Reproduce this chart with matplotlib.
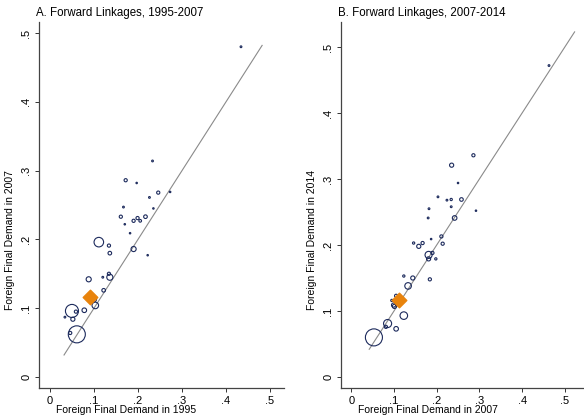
import numpy as np
import matplotlib
matplotlib.use("Agg")
import matplotlib.pyplot as plt

plt.rcParams['font.family'] = ['Liberation Sans', 'DejaVu Sans']

# Panel A: foreign final demand shares, 1995 vs 2007
a_x = [0.434, 0.233, 0.172, 0.197, 0.246, 0.226, 0.273, 0.167, 0.235, 0.161,
       0.170, 0.190, 0.199, 0.205, 0.217, 0.182, 0.111, 0.134, 0.136, 0.190,
       0.222, 0.088, 0.120, 0.134, 0.136, 0.122, 0.093, 0.100, 0.103, 0.050,
       0.059, 0.078, 0.052, 0.034, 0.061, 0.046]
a_y = [0.480, 0.314, 0.286, 0.282, 0.268, 0.261, 0.269, 0.247, 0.245, 0.233,
       0.222, 0.227, 0.231, 0.227, 0.233, 0.209, 0.196, 0.191, 0.180, 0.186,
       0.177, 0.142, 0.145, 0.150, 0.145, 0.126, 0.122, 0.113, 0.104, 0.096,
       0.095, 0.097, 0.084, 0.087, 0.062, 0.064]
a_w = [2, 2, 9, 1, 9, 2, 1, 2, 1, 9,
       1, 9, 9, 6, 12, 1, 90, 9, 12, 25,
       1, 25, 2, 9, 36, 12, 2, 25, 42, 169,
       9, 20, 16, 2, 289, 9]
a_avg = (0.090, 0.117)

# Panel B: foreign final demand shares, 2007 vs 2014
b_x = [0.463, 0.286, 0.235, 0.250, 0.203, 0.224, 0.234, 0.258, 0.234, 0.182,
       0.180, 0.292, 0.242, 0.146, 0.158, 0.167, 0.187, 0.211, 0.214, 0.181,
       0.190, 0.181, 0.198, 0.123, 0.144, 0.133, 0.184, 0.105, 0.095, 0.099,
       0.101, 0.123, 0.085, 0.081, 0.105, 0.053]
b_y = [0.472, 0.336, 0.321, 0.294, 0.273, 0.268, 0.269, 0.269, 0.258, 0.255,
       0.241, 0.252, 0.241, 0.203, 0.198, 0.203, 0.209, 0.213, 0.202, 0.185,
       0.188, 0.179, 0.179, 0.153, 0.150, 0.138, 0.148, 0.123, 0.116, 0.109,
       0.107, 0.093, 0.081, 0.076, 0.073, 0.060]
b_w = [2, 9, 16, 1, 2, 2, 4, 12, 2, 2,
       2, 1, 20, 4, 16, 9, 1, 9, 9, 49,
       9, 16, 4, 4, 16, 42, 9, 9, 4, 16,
       16, 56, 64, 9, 20, 289]
b_avg = (0.112, 0.116)

a_line = (0.032, 0.482)
b_line = (0.042, 0.523)

W, H = 584, 417
fig = plt.figure(figsize=(W / 100, H / 100), dpi=100)

navy = '#1c2a5c'
orange = '#e8830c'


def px_axes(left, top, right, bottom):
    return fig.add_axes([left / W, 1 - bottom / H, (right - left) / W, (bottom - top) / H])


def draw_panel(ax, x, y, w, avg, line, xlim, ylim):
    ax.plot(line, line, color='#8a8a8a', lw=0.8, zorder=1)
    sizes = (0.72 * np.sqrt(np.array(w))) ** 2 + 0.6
    ax.scatter(x, y, s=sizes, facecolors='none', edgecolors=navy, linewidths=0.8, zorder=2)
    ax.scatter([avg[0]], [avg[1]], marker='D', s=55, color=orange, zorder=3)
    ax.set_xlim(*xlim)
    ax.set_ylim(*ylim)
    ticks = [0, 0.1, 0.2, 0.3, 0.4, 0.5]
    labels = ['0', '.1', '.2', '.3', '.4', '.5']
    ax.set_xticks(ticks)
    ax.set_xticklabels(labels)
    ax.set_yticks(ticks)
    ax.set_yticklabels(labels, rotation=90, va='center')
    for s in ['top', 'right']:
        ax.spines[s].set_visible(False)
    for s in ['left', 'bottom']:
        ax.spines[s].set_color('#444444')
        ax.spines[s].set_linewidth(0.9)
    ax.tick_params(direction='out', length=3, width=0.7, color='#333333',
                   labelsize=8, pad=2.5)
    ax.patch.set_alpha(0)


ax1 = px_axes(39, 22, 284, 388)
draw_panel(ax1, a_x, a_y, a_w, a_avg, a_line, (-0.0249, 0.5317), (-0.016, 0.516))
ax2 = px_axes(341, 22, 584, 388)
draw_panel(ax2, b_x, b_y, b_w, b_avg, b_line, (-0.0241, 0.545), (-0.0167, 0.538))

fig.text(36 / W, 1 - 13 / H, 'A. Forward Linkages, 1995-2007', fontsize=8.3, va='center', ha='left')
fig.text(338 / W, 1 - 13 / H, 'B. Forward Linkages, 2007-2014', fontsize=8.3, va='center', ha='left')
fig.text(126 / W, 1 - 410 / H, 'Foreign Final Demand in 1995', fontsize=7.5, va='center', ha='center')
fig.text(428 / W, 1 - 410 / H, 'Foreign Final Demand in 2007', fontsize=7.5, va='center', ha='center')
fig.text(10 / W, 1 - 240 / H, 'Foreign Final Demand in 2007', fontsize=7.5, va='center', ha='center', rotation=90)
fig.text(312 / W, 1 - 240 / H, 'Foreign Final Demand in 2014', fontsize=7.5, va='center', ha='center', rotation=90)

fig.savefig('out.png', dpi=100)
